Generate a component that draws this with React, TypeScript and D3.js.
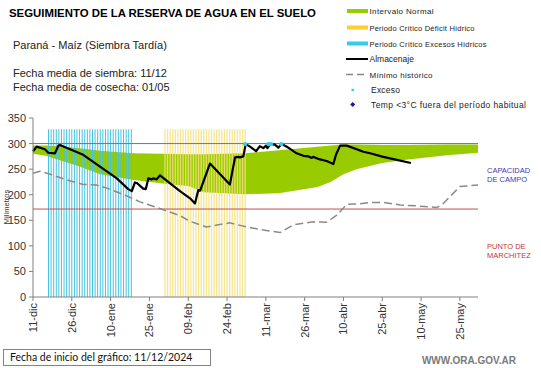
import * as d3 from 'd3';

// fecha de inicio: 11/12/2024 (dia 0)
const START = Date.UTC(2024, 11, 11);
const END = Date.UTC(2025, 5, 1);

const tickDias = [0, 15, 30, 45, 60, 75, 90, 105, 120, 135, 150, 165];
const tickLabels = ['11-dic', '26-dic', '10-ene', '25-ene', '09-feb', '24-feb', '11-mar', '26-mar', '10-abr', '25-abr', '10-may', '25-may'];
const yTicks = [0, 50, 100, 150, 200, 250, 300, 350];

// intervalo normal (banda verde)
const normalDias = [0, 5, 10, 18, 26, 39, 50, 60, 66, 82, 95, 110, 115, 120, 125, 135, 145, 160, 172];
const normalSup = [296, 296, 295, 291, 286, 281, 280, 279, 279, 281, 287, 294, 296, 298, 298, 297, 297, 298, 298];
const normalInf = [280, 276, 268, 255, 240, 229, 222, 217, 205, 201, 203, 215, 225, 240, 250, 262, 269, 277, 282];

// almacenaje
const almDias = [0, 1.4, 4.6, 5.9, 8.5, 9.8, 10.4, 19.4, 25.9, 32.4, 36.8, 38.2, 39.4, 40.1, 42.6, 43.6, 44.6, 45.9, 46.5, 47.8, 49.1, 56.8, 60.7, 62.6, 63.9, 64.6, 68.4, 76.1, 78.1, 79.4, 80, 81.3, 82.2, 83.9, 86.2, 87.7, 89, 90.1, 90.6, 91.6, 93.5, 94.8, 96.1, 98.1, 101.9, 104.5, 106.4, 107.7, 108.3, 110.9, 113.5, 116.1, 117.1, 118.7, 121.3, 127.7, 130.3, 135.4, 140.6, 146.1];
const almMm = [285, 294, 289, 282, 281, 296, 297, 278, 255, 232, 211, 207, 224, 223, 212, 211, 232, 230, 232, 230, 238, 207, 193, 183, 209, 208, 261, 220, 273, 274, 273, 275, 299, 294, 285, 295, 291, 296, 291, 299, 298, 292, 299, 294, 281, 276, 275, 272, 274, 269, 266, 260, 278, 296, 296, 284, 281, 274, 268, 262];

// minimo historico
const minDias = [0, 2.7, 6.6, 13, 19.4, 24.5, 29.7, 36, 41.4, 49, 56.8, 60.7, 67, 76, 82.6, 89, 95.5, 100.6, 108.3, 113.5, 117.4, 121.3, 126, 130.3, 135.4, 141.9, 148.6, 156, 158, 165, 172];
const minMm = [242, 246, 240, 229, 220, 219, 211, 198, 186, 173, 159, 148, 137, 145, 137, 131, 126, 141, 147, 146, 160, 181, 182, 185, 185, 180, 178, 175, 180, 216, 219];

// exceso
const excesoDias = [82, 91, 92, 96];
const excesoMm = [299, 299, 299, 299];

const capacidad = 300;
const marchitez = 172;
const periodoExceso = [6, 38];
const periodoDeficit = [51, 82];
const topePeriodo = 328;

const dia = (d: number) => new Date(START + d * 864e5);

const x = d3.scaleUtc().domain([new Date(START), new Date(END)]).range([33, 478]);
const y = d3.scaleLinear().domain([0, 350]).range([297, 118]);

const legend = [
  { t: 'Intervalo Normal', k: 'band', c: '#99cc00', fs: 8, w: 64 },
  { t: 'Periodo Crítico Déficit Hídrico', k: 'band', c: '#ffcc33', fs: 7.5, w: 105 },
  { t: 'Periodo Crítico Excesos Hídricos', k: 'band', c: '#33ccee', fs: 7.5, w: 117 },
  { t: 'Almacenaje', k: 'line', c: '#000', fs: 8.5, w: 0 },
  { t: 'Mínimo histórico', k: 'dash', c: '#888', fs: 8, w: 63 },
  { t: 'Exceso', k: 'dot', c: '#33ccee', fs: 8.5, w: 29 },
  { t: 'Temp <3°C fuera del período habitual', k: 'diamond', c: '#1a1aa0', fs: 8.5, w: 155 },
];
const legendY = [11, 27.5, 43.5, 59, 74.5, 90, 104.5];

export default function App() {
  const area = d3
    .area<number>()
    .x((_, i) => x(dia(normalDias[i])))
    .y0((_, i) => y(normalInf[i]))
    .y1((_, i) => y(normalSup[i]));
  const line = d3
    .line<number>()
    .x((d) => x(dia(d)))
    .y((_, i) => y(almMm[i]));
  const minLine = d3
    .line<number>()
    .x((d) => x(dia(d)))
    .y((_, i) => y(minMm[i]));

  const exDays = d3.range(periodoExceso[0], periodoExceso[1] + 1);
  const defDays = d3.range(periodoDeficit[0], periodoDeficit[1] + 1);
  const font = 'Liberation Sans, Arial, sans-serif';

  return (
    <div style={{ position: 'fixed', left: 0, top: 0 }}>
      <svg width={541} height={368} style={{ display: 'block', background: '#fff' }} fontFamily={font}>
        <text x={9} y={17} fontSize={11.4} fontWeight="bold" fill="#000">
          SEGUIMIENTO DE LA RESERVA DE AGUA  EN EL SUELO
        </text>
        <text x={13} y={49} fontSize={11} fill="#222">Paraná - Maíz  (Siembra Tardía)</text>
        <text x={13} y={77} fontSize={11} fill="#222">Fecha media de siembra: 11/12</text>
        <text x={13} y={91} fontSize={11} fill="#222">Fecha media de cosecha: 01/05</text>

        {legend.map((l, i) => {
          const cy = legendY[i];
          const tx = l.k === 'dot' || l.k === 'diamond' ? 371 : 369.5;
          return (
            <g key={l.t}>
              {l.k === 'band' && <rect x={347} y={cy - 2} width={21} height={4} fill={l.c} />}
              {l.k === 'line' && <line x1={346} x2={368} y1={cy} y2={cy} stroke={l.c} strokeWidth={2} />}
              {l.k === 'dash' && <line x1={346} x2={368} y1={cy} y2={cy} stroke={l.c} strokeWidth={1.3} strokeDasharray="7,4" />}
              {l.k === 'dot' && <rect x={351.5} y={cy - 1.2} width={2.4} height={2.4} fill={l.c} />}
              {l.k === 'diamond' && <path d={`M352.7,${cy - 2.5}L355.2,${cy}L352.7,${cy + 2.5}L350.2,${cy}Z`} fill={l.c} />}
              <text x={tx} y={cy + 3} fontSize={l.fs} textLength={l.w || undefined} fill="#222">{l.t}</text>
            </g>
          );
        })}

        <path d={area(normalDias) ?? ''} fill="#99cc00" />

        {exDays.map((d) => (
          <line key={'e' + d} x1={x(dia(d))} x2={x(dia(d))} y1={y(0)} y2={y(topePeriodo)} stroke="#45c3de" strokeWidth={1} />
        ))}
        {defDays.map((d) => (
          <line key={'f' + d} x1={x(dia(d))} x2={x(dia(d))} y1={y(0)} y2={y(topePeriodo)} stroke="#f5e07c" strokeWidth={1.3} strokeOpacity={0.85} />
        ))}

        <line x1={x(new Date(START))} x2={x(new Date(END))} y1={y(capacidad)} y2={y(capacidad)} stroke="#4f79c8" strokeWidth={1} />
        <line x1={x(new Date(START))} x2={x(new Date(END))} y1={y(marchitez)} y2={y(marchitez)} stroke="#c0504d" strokeWidth={1} />

        <path d={minLine(minDias) ?? ''} fill="none" stroke="#8a8a8a" strokeWidth={1.5} strokeDasharray="8,4" />
        <path d={line(almDias) ?? ''} fill="none" stroke="#000" strokeWidth={2.2} strokeLinejoin="round" />
        {excesoDias.map((d, i) => (
          <circle key={'x' + d} cx={x(dia(d))} cy={y(excesoMm[i])} r={2.2} fill="#33ccee" />
        ))}

        {/* ejes */}
        <line x1={33} x2={33} y1={y(350)} y2={y(0)} stroke="#808080" />
        <line x1={33} x2={x(new Date(END))} y1={y(0)} y2={y(0)} stroke="#808080" />
        {yTicks.map((t) => (
          <g key={'y' + t}>
            <line x1={29} x2={33} y1={y(t)} y2={y(t)} stroke="#808080" />
            <text x={26} y={y(t) + 4} fontSize={11} textAnchor="end" fill="#333">{t}</text>
          </g>
        ))}
        {tickDias.map((d, i) => {
          const tx = x(dia(d));
          return (
            <g key={'t' + d}>
              <line x1={tx} x2={tx} y1={297} y2={301} stroke="#808080" />
              <text transform={`translate(${tx + 4},303) rotate(-90)`} fontSize={11} textAnchor="end" fill="#333">{tickLabels[i]}</text>
            </g>
          );
        })}
        <text transform="translate(9,207) rotate(-90)" fontSize={7.5} textAnchor="middle" fill="#333">Milímetros</text>

        <text x={487} y={173} fontSize={7.5} fill="#3a3ab0">CAPACIDAD</text>
        <text x={487} y={182} fontSize={7.5} fill="#3a3ab0">DE  CAMPO</text>
        <text x={487} y={249} fontSize={7.5} fill="#c0392b">PUNTO   DE</text>
        <text x={487} y={258} fontSize={7.5} fill="#c0392b">MARCHITEZ</text>

        <rect x={3.5} y={349.5} width={207} height={16} fill="#fff" stroke="#8c7f7f" />
        <text x={10} y={361} fontSize={10.5} fontFamily="Lato, sans-serif" fill="#111">Fecha de inicio del gráfico:   11/12/2024</text>
        <text x={516} y={364} fontSize={10} fontWeight="bold" textAnchor="end" fill="#7a7a7a">WWW.ORA.GOV.AR</text>
      </svg>
    </div>
  );
}
